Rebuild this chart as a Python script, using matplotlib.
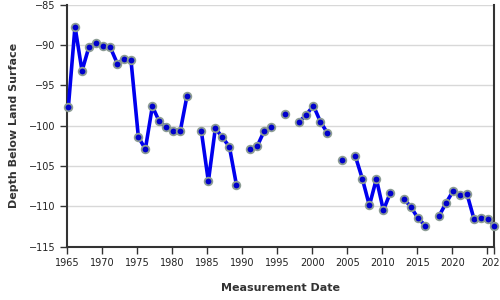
import numpy as np
import matplotlib
matplotlib.use("Agg")
import matplotlib.pyplot as plt

years = [1965.15, 1966.1, 1967.1, 1968.1, 1969.1, 1970.1, 1971.1, 1972.15, 1973.1, 1974.1,
         1975.15, 1976.15, 1977.15, 1978.1, 1979.1, 1980.15, 1981.15, 1982.1,
         1984.15, 1985.15, 1986.15, 1987.1, 1988.15, 1989.15,
         1991.15, 1992.15, 1993.1, 1994.1,
         1996.15,
         1998.1, 1999.1, 2000.15, 2001.15, 2002.15,
         2004.2,
         2006.15, 2007.15, 2008.15, 2009.15, 2010.15, 2011.1,
         2013.1, 2014.1, 2015.1, 2016.15,
         2018.1, 2019.1, 2020.1, 2021.1, 2022.1, 2023.1, 2024.1, 2025.1, 2025.95]
depth = [-97.7, -87.7, -93.2, -90.2, -89.7, -90.1, -90.2, -92.3, -91.7, -91.9,
         -101.4, -102.9, -97.6, -99.4, -100.2, -100.6, -100.6, -96.3,
         -100.7, -106.9, -100.3, -101.4, -102.6, -107.3,
         -102.9, -102.5, -100.7, -100.2,
         -98.6,
         -99.5, -98.7, -97.5, -99.5, -100.9,
         -104.3,
         -103.8, -106.6, -109.9, -106.6, -110.5, -108.4,
         -109.1, -110.1, -111.5, -112.4,
         -111.2, -109.6, -108.1, -108.6, -108.5, -111.6, -111.5, -111.6, -112.4]
xticks = [1965, 1970, 1975, 1980, 1985, 1990, 1995, 2000, 2005, 2010, 2015, 2020, 2025, 2025.95]
xticklabels = ["1965", "1970", "1975", "1980", "1985", "1990", "1995", "2000", "2005",
               "2010", "2015", "2020", "", "2026"]
yticks = [-115, -110, -105, -100, -95, -90, -85]

# insert gaps where consecutive measurements are more than ~1.5 years apart
lx, ly = [], []
for i, (x, y) in enumerate(zip(years, depth)):
    if i > 0 and x - years[i - 1] > 1.5:
        lx.append(np.nan)
        ly.append(np.nan)
    lx.append(x)
    ly.append(y)

fig = plt.figure(figsize=(5, 3), dpi=100)
ax = fig.add_axes([0.1346, 0.178, 0.8534, 0.806])

ax.plot(lx, ly, color="#0000ee", lw=2.6, solid_capstyle="round", zorder=3)
ax.plot(years, depth, ls="none", marker="o", ms=5.5, mfc="#0000cc",
        mec="#8c9c94", mew=1.3, zorder=4, clip_on=False)

ax.set_xlim(1965, 2025.95)
ax.set_ylim(-115, -85)
ax.set_xticks(xticks)
ax.set_xticklabels(xticklabels)
ax.set_yticks(yticks)
ax.yaxis.grid(True, color="#d8d8d8", lw=1)
ax.set_axisbelow(True)

for s in ["left", "bottom", "right"]:
    ax.spines[s].set_color("#333333")
    ax.spines[s].set_linewidth(1.5)
ax.spines["top"].set_visible(False)

ax.tick_params(axis="both", labelsize=7, colors="#333333", length=5, width=1, direction="out")
ax.tick_params(axis="x", pad=3)
for lab in ax.get_xticklabels() + ax.get_yticklabels():
    lab.set_color("#222222")

ax.set_xlabel("Measurement Date", fontsize=8, fontweight="bold", color="#333333", labelpad=11)
ax.set_ylabel("Depth Below Land Surface", fontsize=8, fontweight="bold", color="#333333", labelpad=7)

fig.savefig("out.png", dpi=100)
